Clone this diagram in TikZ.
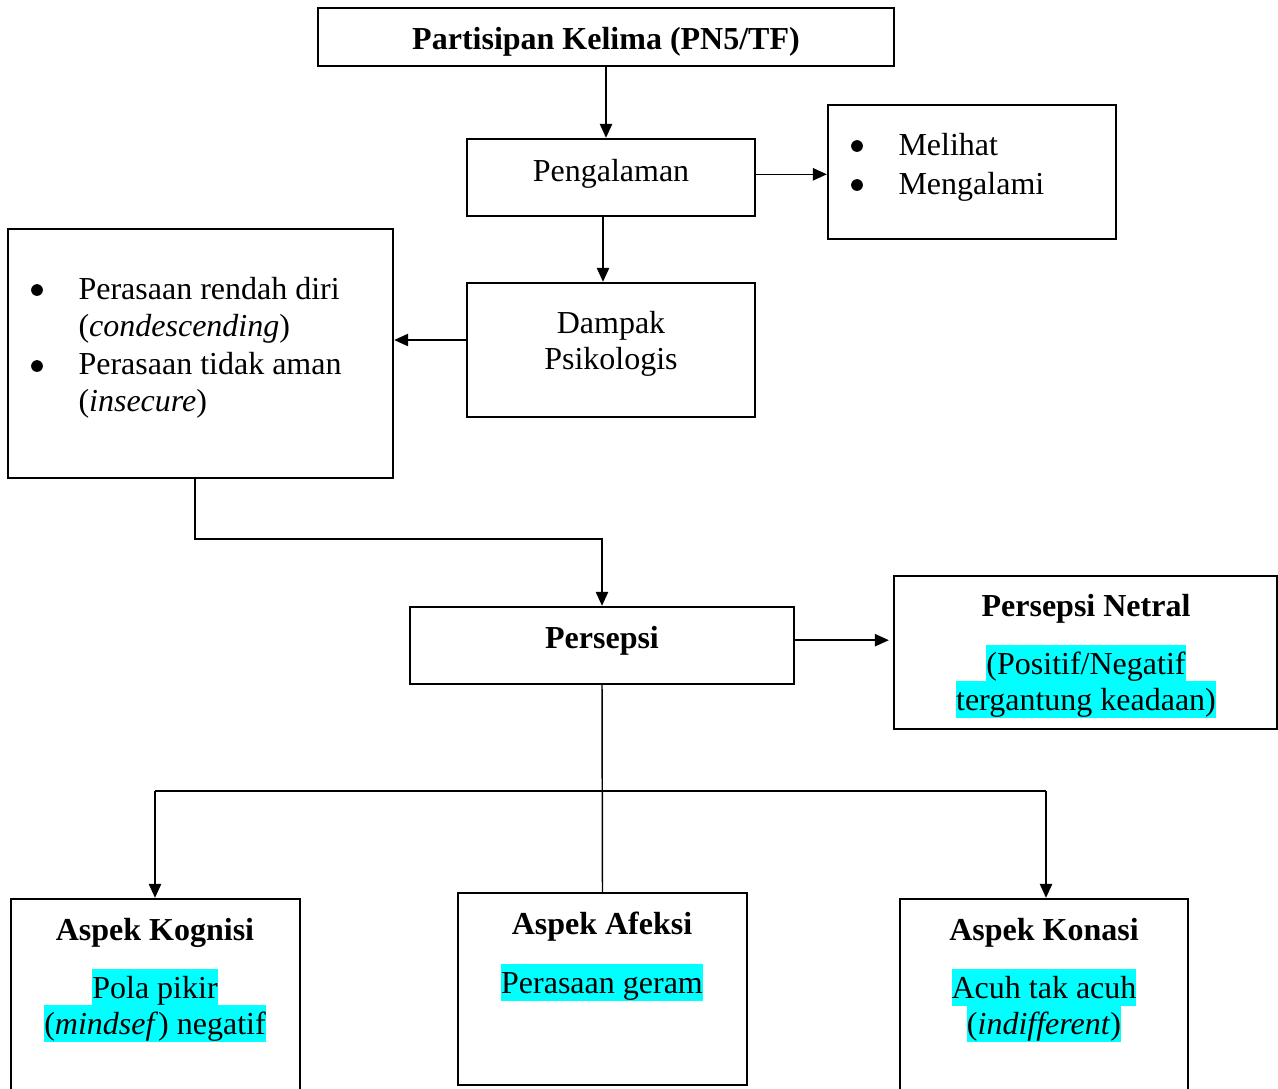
\documentclass[tikz,border=0pt]{standalone}
\usepackage{fontspec}
\setmainfont{Liberation Serif}
\usetikzlibrary{arrows.meta,fit}
\definecolor{hlcyan}{HTML}{00FFFF}
\newcommand{\hlt}[1]{{\setlength{\fboxsep}{0pt}\colorbox{hlcyan}{\rule[-3pt]{0pt}{14pt}#1}}}
\begin{document}
\begin{tikzpicture}[x=0.375pt,y=-0.375pt,
  box/.style={draw, line width=0.9pt, inner sep=0pt},
  txt/.style={inner sep=0pt, anchor=base, font=\fontsize{12}{14}\selectfont},
  ltxt/.style={txt, anchor=base west},
  arr/.style={line width=0.55pt, -{Triangle[length=5.2pt,width=4.6pt]}},
  ln/.style={line width=0.55pt}]
\useasboundingbox (0,0) rectangle (1278,1088);
\clip (0,0) rectangle (1278,1088);

% boxes
\node[box, fit={(318,8) (894,66)}] (top) {};
\node[box, fit={(467,139) (755,216)}] (peng) {};
\node[box, fit={(828,105) (1116,239)}] (mel) {};
\node[box, fit={(467,283) (755,417)}] (damp) {};
\node[box, fit={(8,229) (393,478)}] (rasa) {};
\node[box, fit={(410,607) (794,684)}] (pers) {};
\node[box, fit={(894,576) (1277,729)}] (netral) {};
\node[box, fit={(11,899) (300,1130)}] (kog) {};
\node[box, fit={(458,893) (747,1085)}] (afek) {};
\node[box, fit={(900,899) (1188,1130)}] (kon) {};

% texts
\node[txt, font=\fontsize{12}{14}\selectfont\bfseries] (ttop) at (606,49) {Partisipan Kelima (PN5/TF)};
\node[txt] (tpeng) at (611,181) {Pengalaman};

\fill (857,146) circle[radius=2.2pt];
\fill (857,185) circle[radius=2.2pt];
\node[ltxt] (tmel1) at (898,155) {Melihat};
\node[ltxt] (tmel2) at (898,194) {Mengalami};

\fill (37,290) circle[radius=2.2pt];
\fill (37,366) circle[radius=2.2pt];
\node[ltxt] (tr1) at (78,299) {Perasaan rendah diri};
\node[ltxt] (tr2) at (78,336) {(\textit{condescending})};
\node[ltxt] (tr3) at (78,374) {Perasaan tidak aman};
\node[ltxt] (tr4) at (78,411) {(\textit{insecure})};

\node[txt] (td1) at (611,333) {Dampak};
\node[txt] (td2) at (611,369) {Psikologis};

\node[txt, font=\fontsize{12}{14}\selectfont\bfseries] (tpers) at (602,648) {Persepsi};

\node[txt, font=\fontsize{12}{14}\selectfont\bfseries] (tnet) at (1086,616) {Persepsi Netral};
\node[txt] (tnet1) at (1086,674) {\hlt{(Positif/Negatif}};
\node[txt] (tnet2) at (1086,710) {\hlt{tergantung keadaan)}};

\node[txt, font=\fontsize{12}{14}\selectfont\bfseries] (tkog) at (155,940) {Aspek Kognisi};
\node[txt] (tkog1) at (155,998) {\hlt{Pola pikir}};
\node[txt] (tkog2) at (155,1034) {\hlt{(\textit{mindsef}) negatif}};

\node[txt, font=\fontsize{12}{14}\selectfont\bfseries] (tafek) at (602,934) {Aspek Afeksi};
\node[txt] (tafek1) at (602,993) {\hlt{Perasaan geram}};

\node[txt, font=\fontsize{12}{14}\selectfont\bfseries] (tkon) at (1044,940) {Aspek Konasi};
\node[txt] (tkon1) at (1044,998) {\hlt{Acuh tak acuh}};
\node[txt] (tkon2) at (1044,1034) {\hlt{(\textit{indifferent})}};

% connectors
\draw[arr] (top.south) -- (top.south |- peng.north);
\draw[arr] ([yshift=1.2pt]peng.east) -- ([yshift=1.2pt]peng.east -| mel.west);
\draw[arr] ([xshift=-3pt]peng.south) -- ([xshift=-3pt]damp.north);
\draw[arr] ([yshift=3.75pt]damp.west) -- ([yshift=3.75pt]damp.west -| rasa.east);
\draw[arr] ([xshift=-2pt]rasa.south) -- ++(0,60) -| (pers.north);
\draw[arr] ([yshift=2pt]pers.east) -- ([yshift=2pt, xshift=-1.5pt]pers.east -| netral.west);
\coordinate (hl) at (155,791);
\coordinate (hr) at (1046,791);
\draw[ln] (pers.south) -- (afek.north);
\draw[ln] (hl) -- (hr);
\draw[arr] (hl) -- (hl |- kog.north);
\draw[arr] (hr) -- (hr |- kon.north);
\end{tikzpicture}
\end{document}
